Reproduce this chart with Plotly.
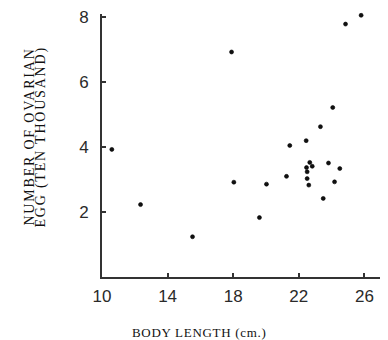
import plotly.graph_objects as go

# Data
body_length = [25.8, 24.85, 17.9, 24.07, 23.32, 22.45, 21.45, 10.6, 22.67, 22.82,
               22.47, 22.51, 23.81, 24.5, 21.25, 22.51, 24.18, 18.04, 20.03, 22.61,
               23.49, 12.35, 19.6, 15.52]
egg_count = [8.06, 7.79, 6.93, 5.22, 4.63, 4.20, 4.05, 3.93, 3.53, 3.41,
             3.37, 3.24, 3.51, 3.34, 3.10, 3.03, 2.93, 2.92, 2.86, 2.83,
             2.42, 2.23, 1.83, 1.24]
x_ticks = [10, 14, 18, 22, 26]
y_ticks = [2, 4, 6, 8]
x_title = "BODY LENGTH (cm.)"
y_title_1 = "NUMBER OF OVARIAN"
y_title_2 = "EGG (TEN THOUSAND)"

# the page body adds an 8px margin, so the figure is drawn 8px smaller
OFF = 8
PL, PT, PB = 102 - OFF, 12 - OFF, 63
W, H = 388 - OFF, 340 - OFF
PW, PH = W - PL, H - PT - PB

fig = go.Figure()
fig.add_trace(go.Scatter(
    x=body_length, y=egg_count, mode="markers",
    marker=dict(size=4, color="#111", line=dict(width=0.6, color="#000")),
    cliponaxis=False, showlegend=False,
))

tick_font = dict(family="Liberation Sans, Arial, sans-serif", size=17, color="#2a2a2a")
serif = "Liberation Serif, Times New Roman, serif"

fig.update_layout(
    width=W, height=H,
    margin=dict(l=PL, r=0, t=PT, b=PB),
    paper_bgcolor="white", plot_bgcolor="white",
    xaxis=dict(
        range=[10, 27.44], tickvals=x_ticks, ticktext=[str(v) for v in x_ticks],
        showgrid=False, zeroline=False, showline=True, linewidth=2, linecolor="#333",
        ticks="inside", ticklen=4, tickwidth=1.5, tickcolor="#333",
        tickfont=tick_font, ticklabelstandoff=3, ticklabeloverflow="allow",
    ),
    yaxis=dict(
        range=[0, 8.1], tickvals=y_ticks, ticktext=[str(v) for v in y_ticks],
        showgrid=False, zeroline=False, showline=True, linewidth=2, linecolor="#333",
        ticks="inside", ticklen=4, tickwidth=1.5, tickcolor="#333",
        tickfont=tick_font, ticklabelstandoff=8, ticklabeloverflow="allow",
    ),
    annotations=[
        dict(text='<span style="letter-spacing:0.7px">' + x_title + '</span>',
             xref="paper", yref="paper", x=(199.5 - 102) / PW, y=-(333 - 277) / PH,
             xanchor="center", yanchor="middle", showarrow=False,
             font=dict(family=serif, size=13, color="#111")),
        dict(text='<span style="letter-spacing:1.8px">' + y_title_1 + '</span>',
             xref="paper", yref="paper", x=-(102 - 29.5) / PW, y=(277 - 136) / PH,
             xanchor="center", yanchor="middle", showarrow=False, textangle=-90,
             font=dict(family=serif, size=14, color="#111")),
        dict(text='<span style="letter-spacing:1.8px">' + y_title_2 + '</span>',
             xref="paper", yref="paper", x=-(102 - 41.5) / PW, y=(277 - 136) / PH,
             xanchor="center", yanchor="middle", showarrow=False, textangle=-90,
             font=dict(family=serif, size=14, color="#111")),
    ],
)

fig.write_html("out.html")
